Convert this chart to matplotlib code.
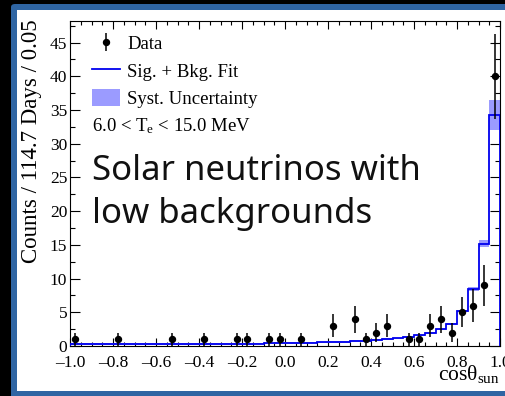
import numpy as np
import matplotlib
matplotlib.use("Agg")
import matplotlib.pyplot as plt
from matplotlib.patches import FancyBboxPatch, Rectangle, Patch
from matplotlib.lines import Line2D
from matplotlib.ticker import MultipleLocator, FuncFormatter

plt.rcParams['font.family'] = ['Liberation Serif', 'DejaVu Serif']
plt.rcParams['mathtext.fontset'] = 'custom'
plt.rcParams['mathtext.rm'] = 'Liberation Serif'
plt.rcParams['mathtext.it'] = 'Liberation Serif:italic'

# ---- data ----
bin_edges = np.linspace(-1.0, 1.0, 41)
fit_values = [0.3] * 15 + [0.33, 0.34, 0.36, 0.38, 0.40,
                           0.43, 0.46, 0.50, 0.54,
                           0.58, 0.63, 0.70, 0.78,
                           0.88, 1.00, 1.14,
                           1.32, 1.58, 1.92, 2.45, 3.3, 5.2, 8.4, 15.2, 34.3]
syst_unc = [0.12] * 31 + [0.12, 0.12, 0.12, 0.13, 0.15, 0.2, 0.28, 0.5, 2.2]

data_x = [-0.975, -0.775, -0.525, -0.375, -0.225, -0.175, -0.075, -0.025, 0.075,
          0.225, 0.325, 0.375, 0.425, 0.475, 0.575, 0.625, 0.675, 0.725, 0.775,
          0.825, 0.875, 0.925, 0.975]
data_y = [1, 1, 1, 1, 1, 1, 1, 1, 1,
          3, 4, 1, 2, 3, 1, 1, 3, 4, 2,
          5, 6, 9, 40]
data_err = np.sqrt(np.array(data_y, dtype=float))

W, H = 506, 396
fig = plt.figure(figsize=(W / 100, H / 100), dpi=100, facecolor='black')

# frame
blue = FancyBboxPatch((11 / W, -0.05), 1.2, 1 - 4 / H + 0.05,
                      boxstyle="round,pad=0,rounding_size=0.008",
                      transform=fig.transFigure, facecolor='#2f65a3',
                      edgecolor='none', zorder=0)
fig.add_artist(blue)
white = Rectangle((17 / W, 5 / H), 1.2, 1 - 10 / H - 5 / H,
                  transform=fig.transFigure, facecolor='white',
                  edgecolor='none', zorder=0.5)
fig.add_artist(white)

ax = fig.add_axes([70 / W, (H - 346) / H, 430 / W, 325 / H])
ax.set_facecolor('white')
ax.set_zorder(1)

fit = np.array(fit_values)
unc = np.array(syst_unc)
ax.stairs(fit + unc, bin_edges, baseline=fit - unc, fill=True,
          color='#9b9bff', linewidth=0, zorder=2)
ax.stairs(fit, bin_edges, baseline=0, fill=False, color='#0000ee',
          linewidth=1.3, zorder=3)
eb = ax.errorbar(data_x, data_y, yerr=data_err, fmt='o', color='black',
                 markersize=4.3, elinewidth=1.1, capsize=0, zorder=4)

ax.set_xlim(-1.0, 1.0)
ax.set_ylim(0, 48.2)
ax.xaxis.set_major_locator(MultipleLocator(0.2))
ax.xaxis.set_minor_locator(MultipleLocator(0.05))
ax.yaxis.set_major_locator(MultipleLocator(5))
ax.yaxis.set_minor_locator(MultipleLocator(2.5))
ax.tick_params(which='both', direction='in', top=True, right=True,
               width=0.8, labelsize=12.5, colors='black')
ax.tick_params(axis='x', which='major', length=6, pad=6.5)
ax.tick_params(axis='x', which='minor', length=3)
ax.tick_params(axis='y', which='major', length=7, pad=2)
ax.tick_params(axis='y', which='minor', length=3.5)
ax.xaxis.set_major_formatter(FuncFormatter(
    lambda v, p: ('%.1f' % v).replace('-', '\u2013')))
ax.yaxis.set_major_formatter(FuncFormatter(lambda v, p: '%d' % round(v)))
for s in ax.spines.values():
    s.set_linewidth(0.8)

ax.set_ylabel('Counts / 114.7 Days / 0.05', fontsize=16.5)
ax.yaxis.set_label_coords(-0.066, 0.63)
ax.text(1.0, -0.105, 'cos\u03b8$_{\\mathrm{sun}}$', transform=ax.transAxes,
        ha='right', va='baseline', fontsize=15.5)

handles = [eb,
           Line2D([], [], color='#0000ee', linewidth=1.3),
           Patch(facecolor='#9b9bff', edgecolor='none')]
labels = ['Data', 'Sig. + Bkg. Fit', 'Syst. Uncertainty']
ax.legend(handles, labels, loc='upper left', bbox_to_anchor=(0.05, 0.958),
          frameon=False, fontsize=13.5, handlelength=1.5, handleheight=1.0,
          handletextpad=0.4, labelspacing=0.45, borderpad=0, borderaxespad=0)
ax.text(0.051, 0.675, '6.0 < T$_{\\mathrm{e}}$ < 15.0 MeV',
        transform=ax.transAxes, ha='left', va='center', fontsize=13.5)

fig.text(92 / W, (H - 180) / H, 'Solar neutrinos with', fontsize=25,
         family='Noto Sans', color='#111111', ha='left', va='baseline', zorder=5)
fig.text(92 / W, (H - 223) / H, 'low backgrounds', fontsize=25,
         family='Noto Sans', color='#111111', ha='left', va='baseline', zorder=5)

fig.savefig('out.png', dpi=100, facecolor='black')
